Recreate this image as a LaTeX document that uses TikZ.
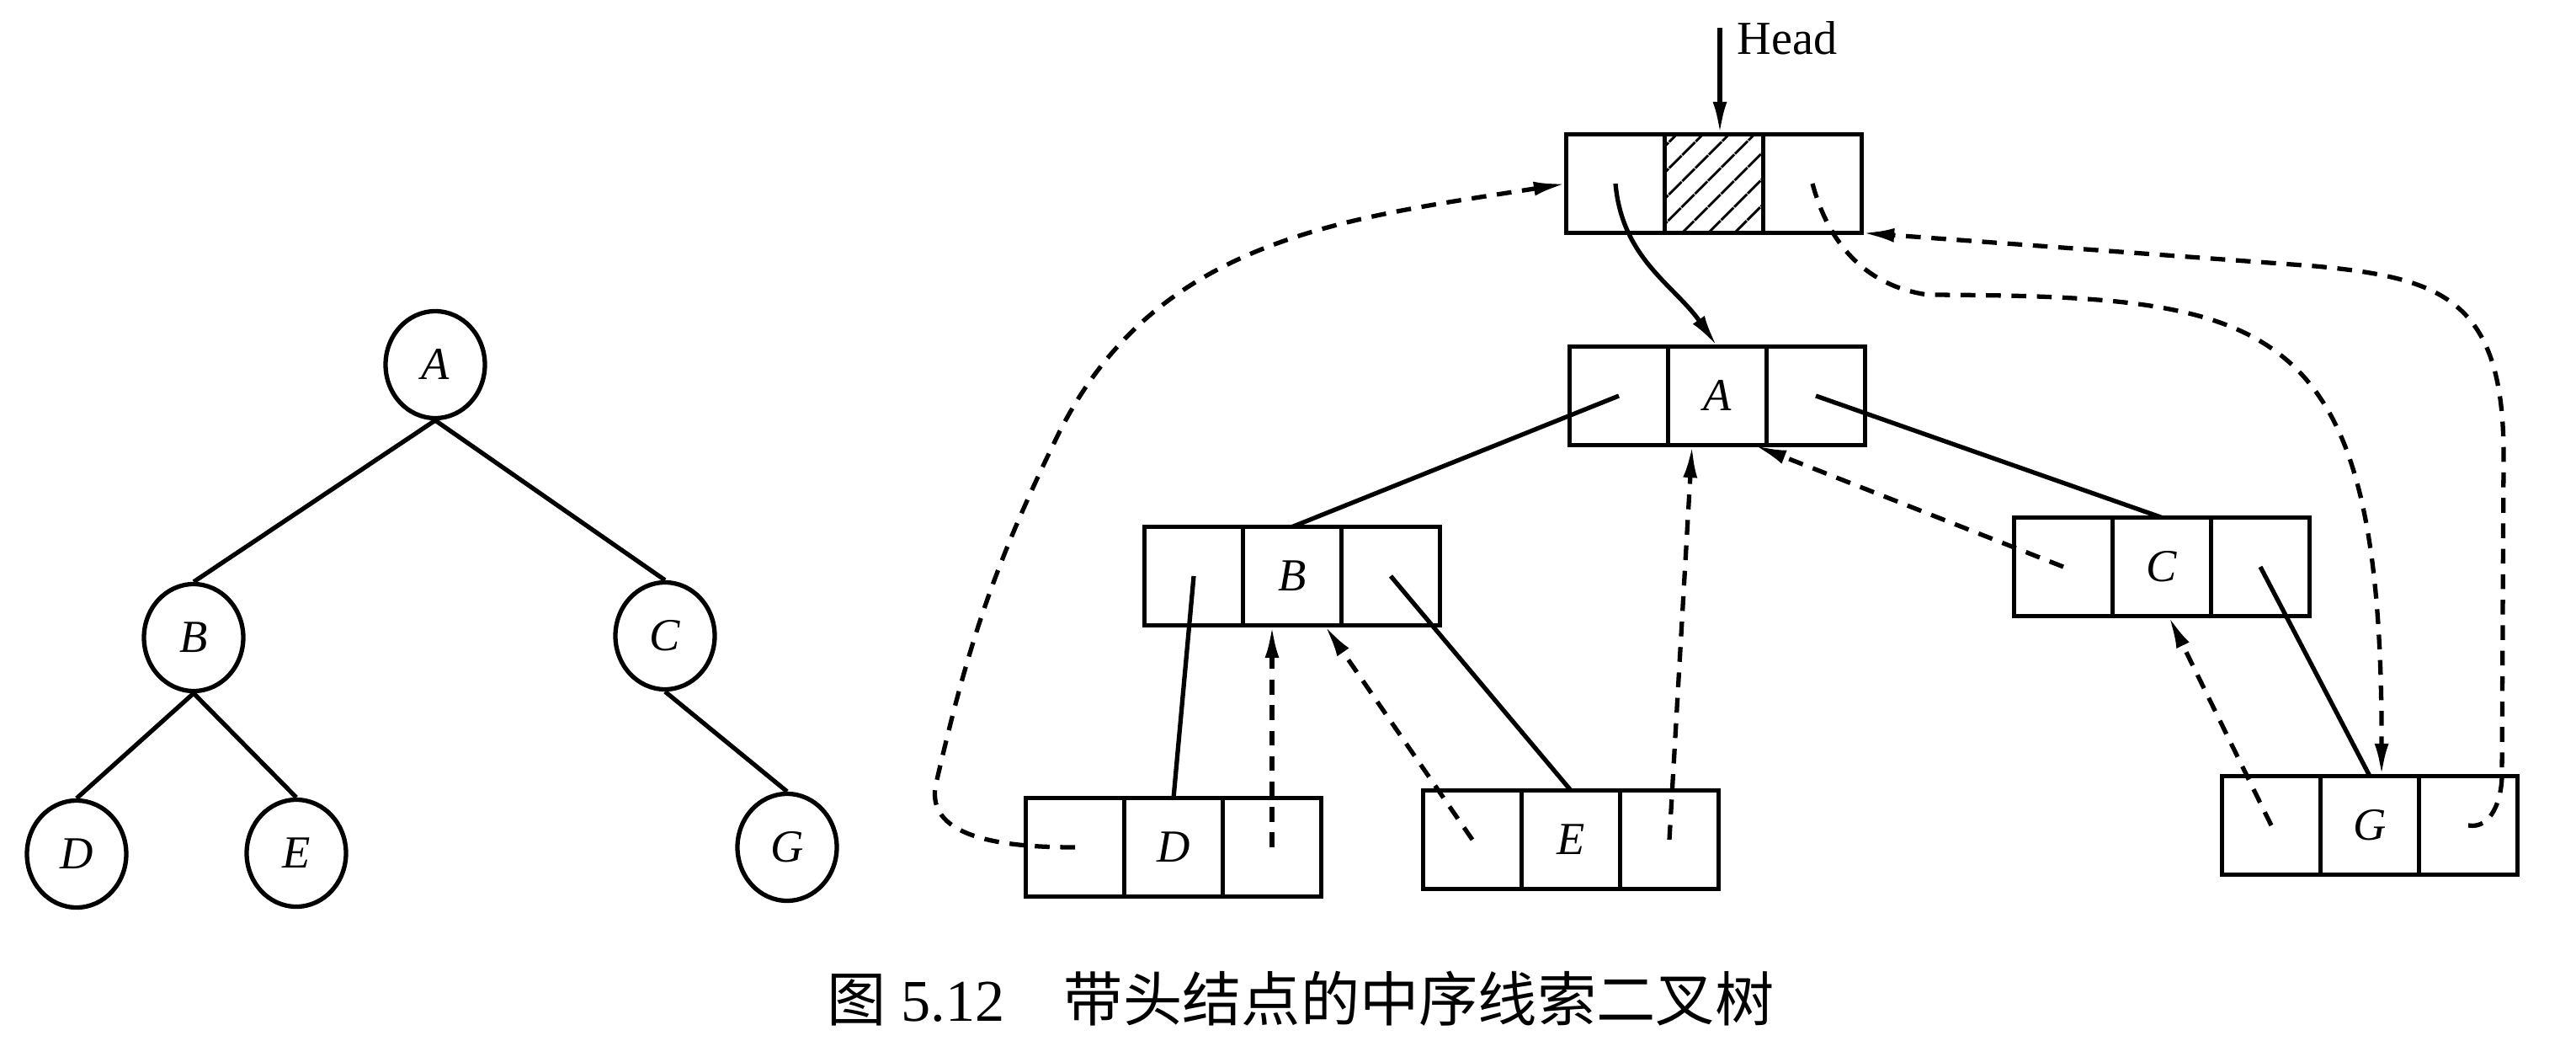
\documentclass[tikz,border=0pt]{standalone}
\usepackage{fontspec}
\setmainfont{Liberation Serif}
\newfontfamily\cjkfont{Noto Sans CJK SC}
\usetikzlibrary{positioning,arrows.meta,patterns.meta,shapes.geometric}

\begin{document}
\begin{tikzpicture}[x=1cm,y=1cm,
  treeNode/.style={ellipse,draw,line width=1.5pt,minimum width=1.18cm,minimum height=1.27cm,inner sep=0pt,font=\itshape\fontsize{15.5}{15.5}\selectfont},
  cellBox/.style={rectangle,draw,line width=1.6pt,minimum width=1.17cm,minimum height=1.17cm,inner sep=0pt,outer sep=0pt,font=\itshape\fontsize{15.5}{15.5}\selectfont},
  childLink/.style={line width=1.5pt},
  threadLink/.style={line width=1.5pt,dash pattern=on 5pt off 3.6pt,-{Latex[length=11pt,width=4.8pt]}},
  ptrLink/.style={line width=1.5pt,-{Latex[length=11pt,width=4.8pt]}}]
\path[use as bounding box] (0,0) rectangle (30.60,-12.36);

% plain binary tree
\node[treeNode] (tA) at (5.17,-4.33) {A};
\node[treeNode] (tB) at (2.30,-7.57) {B};
\node[treeNode] (tC) at (7.90,-7.55) {C};
\node[treeNode] (tD) at (0.91,-10.14) {D};
\node[treeNode] (tE) at (3.52,-10.13) {E};
\node[treeNode] (tG) at (9.35,-10.06) {G};
\draw[childLink] (tA.south) -- (tB.north);
\draw[childLink] (tA.south) -- (tC.north);
\draw[childLink] (tB.south) -- (tD.north);
\draw[childLink] (tB.south) -- (tE.north);
\draw[childLink] (tC.south) -- (tG.north);

% threaded tree with head node
\node[cellBox,pattern={Lines[angle=45,distance=6.5pt,line width=1pt]}] (hD) at (20.36,-2.18) {};
\node[cellBox,left=0pt of hD] (hL) {};
\node[cellBox,right=0pt of hD] (hR) {};

\node[cellBox] (aD) at (20.40,-4.70) {A};
\node[cellBox,left=0pt of aD] (aL) {};
\node[cellBox,right=0pt of aD] (aR) {};

\node[cellBox] (bD) at (15.35,-6.84) {B};
\node[cellBox,left=0pt of bD] (bL) {};
\node[cellBox,right=0pt of bD] (bR) {};

\node[cellBox] (cD) at (25.68,-6.73) {C};
\node[cellBox,left=0pt of cD] (cL) {};
\node[cellBox,right=0pt of cD] (cR) {};

\node[cellBox] (dD) at (13.94,-10.06) {D};
\node[cellBox,left=0pt of dD] (dL) {};
\node[cellBox,right=0pt of dD] (dR) {};

\node[cellBox] (eD) at (18.66,-9.97) {E};
\node[cellBox,left=0pt of eD] (eL) {};
\node[cellBox,right=0pt of eD] (eR) {};

\node[cellBox] (gD) at (28.15,-9.80) {G};
\node[cellBox,left=0pt of gD] (gL) {};
\node[cellBox,right=0pt of gD] (gR) {};

\coordinate (headTip) at (20.43,-0.33);
\node[anchor=west,inner sep=0pt,font=\fontsize{16}{16}\selectfont] (headLbl) at (20.63,-0.45) {Head};
\draw[ptrLink] (headTip) -- (headTip |- hD.north);
\draw[ptrLink] (hL.center) to[out=-85,in=125] (aD.north);

\draw[childLink] (aL.center) -- (bD.north);
\draw[childLink] (aR.center) -- (cD.north);
\draw[childLink] (bL.center) -- (dD.north);
\draw[childLink] (bR.center) -- (eD.north);
\draw[childLink] (cR.center) -- (gD.north);

\draw[threadLink] (dL.center) to[out=180,in=-103] (11.12,-9.30) to[out=77,in=-116] (12.55,-5.20) to[out=64,in=189] (hL.west);
\draw[threadLink] (dR.center) -- (dR.center |- bD.south);
\draw[threadLink] (eL.center) -- ([xshift=-0.2cm]bD.south east);
\draw[threadLink] (eR.center) -- ([xshift=-0.3cm]aD.south);
\draw[threadLink] (cL.center) -- ([xshift=-0.15cm]aD.south east);
\draw[threadLink] (gL.center) -- ([xshift=0.08cm]cD.south);
\draw[threadLink] (hR.center) to[out=-75,in=172] (22.90,-3.50) .. controls (27.00,-3.52) and (28.30,-3.70) .. ([xshift=0.14cm]gD.north);
\draw[threadLink] (gR.center) to[out=-10,in=-90] (29.72,-9.20) -- (29.74,-5.40) .. controls (29.74,-3.55) and (29.00,-3.30) .. (27.50,-3.16) -- (hR.south east);

\node[font=\fontsize{20}{20}\selectfont] (caption) at (15.45,-11.86) {{\cjkfont 图}~5.12\hspace{1em}{\cjkfont 带头结点的中序线索二叉树}};
\end{tikzpicture}
\end{document}
